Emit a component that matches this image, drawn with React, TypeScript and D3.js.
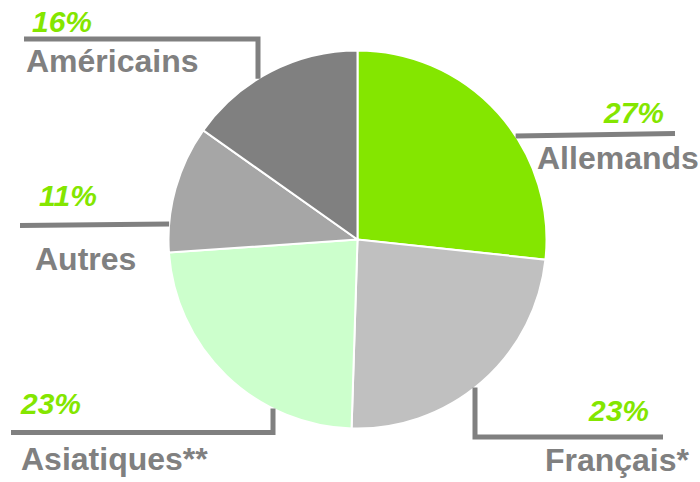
import * as d3 from 'd3'

// Slice shares (the printed labels are rounded)
const categories = ['Allemands', 'Français*', 'Asiatiques**', 'Autres', 'Américains']
const shares = [26.7, 23.8, 23.4, 10.9, 15.2]
const pctLabels = ['27%', '23%', '23%', '11%', '16%']
const sliceColors = ['#84e600', '#c0c0c0', '#ccffcc', '#a6a6a6', '#808080']

const WIDTH = 700
const HEIGHT = 482
const CX = 357.5
const CY = 239.5
const R = 189

// label layout: leader line kind, and where the texts sit
type Layout = {
  kind: 'v' | 'h'
  x?: number
  y: number
  endX: number
  endY?: number
  pct: [number, number, string]
  name: [number, number, string]
}
const layouts: Layout[] = [
  { kind: 'h', y: 136, endX: 675, endY: 133.5, pct: [664, 123, 'end'], name: [537, 169, 'start'] },
  { kind: 'v', x: 475, y: 437, endX: 663, pct: [649, 421, 'end'], name: [689, 471, 'end'] },
  { kind: 'v', x: 273, y: 432.5, endX: 11, pct: [21, 414, 'start'], name: [21, 470, 'start'] },
  { kind: 'h', y: 224, endX: 20, endY: 225.5, pct: [39, 206, 'start'], name: [35, 270, 'start'] },
  { kind: 'v', x: 258, y: 39, endX: 24, pct: [32, 32, 'start'], name: [26, 72, 'start'] },
]

function leaderPoints(l: Layout, side: number): [number, number][] {
  if (l.kind === 'v') {
    const dx = l.x! - CX
    const sy = CY + side * Math.sqrt(R * R - dx * dx)
    return [[l.x!, sy], [l.x!, l.y], [l.endX, l.y]]
  }
  const dy = l.y - CY
  const sx = CX + side * Math.sqrt(R * R - dy * dy)
  return [[sx, l.y], [l.endX, l.endY ?? l.y]]
}

export default function App() {
  const pie = d3.pie<number>().sort(null).value(d => d)
  const arcs = pie(shares)
  const arc = d3.arc<d3.PieArcDatum<number>>().innerRadius(0).outerRadius(R)
  const line = d3.line()

  return (
    <div style={{ position: 'fixed', left: 0, top: 0 }}>
      <svg width={WIDTH} height={HEIGHT} style={{ display: 'block', background: '#fff' }}
        fontFamily="'Liberation Sans', Arial, sans-serif" fontWeight="bold">
        <g transform={`translate(${CX},${CY})`}>
          {arcs.map((a, i) => (
            <path key={i} d={arc(a) ?? ''} fill={sliceColors[i]} stroke="#fff" strokeWidth={2} />
          ))}
        </g>
        {layouts.map((l, i) => {
          const mid = (arcs[i].startAngle + arcs[i].endAngle) / 2
          const right = Math.sin(mid) > 0
          const below = -Math.cos(mid) > 0
          const side = l.kind === 'v' ? (below ? 1 : -1) : (right ? 1 : -1)
          const pts = leaderPoints(l, side)
          return (
            <g key={i}>
              <path d={line(pts) ?? ''} fill="none" stroke="#808080" strokeWidth={5} strokeLinejoin="miter" />
              <text x={l.pct[0]} y={l.pct[1]} textAnchor={l.pct[2]} fill="#84e600"
                fontStyle="italic" fontSize={30}>{pctLabels[i]}</text>
              <text x={l.name[0]} y={l.name[1]} textAnchor={l.name[2]} fill="#808080"
                fontSize={32}>{categories[i]}</text>
            </g>
          )
        })}
      </svg>
    </div>
  )
}
